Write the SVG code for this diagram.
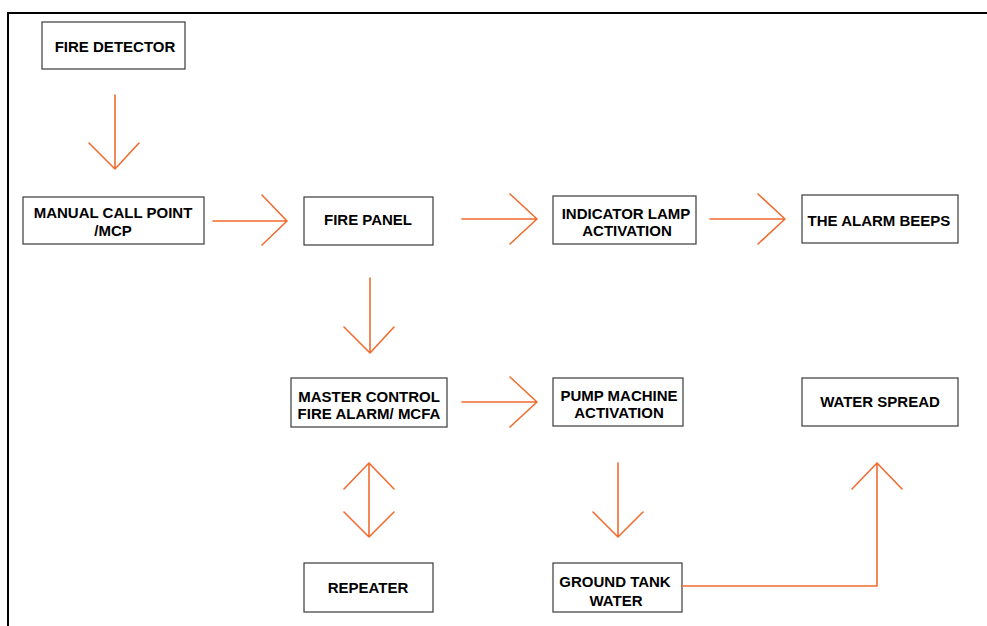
<svg xmlns="http://www.w3.org/2000/svg" width="987" height="626" viewBox="0 0 987 626">
<style>
.box{fill:#fff;stroke:#3a3a3a;stroke-width:1.2}
.t{font-family:"Liberation Sans",Arial,sans-serif;font-weight:bold;font-size:15px;fill:#000;text-anchor:middle}
.c{fill:none;stroke:#F26B2F;stroke-width:1.6;stroke-linecap:round;stroke-linejoin:round}
</style>
<rect x="0" y="0" width="987" height="626" fill="#fff"/>
<path d="M8,626 V13 H987" fill="none" stroke="#000" stroke-width="2"/>
<g id="fire-detector"><rect class="box" x="42" y="22" width="143" height="47"/><text class="t" x="115" y="52">FIRE DETECTOR</text></g>
<g id="manual-call-point"><rect class="box" x="23" y="197" width="181" height="47"/><text class="t" x="113" y="218">MANUAL CALL POINT</text><text class="t" x="113" y="236">/MCP</text></g>
<g id="fire-panel"><rect class="box" x="304" y="197" width="129" height="48"/><text class="t" x="368" y="225">FIRE PANEL</text></g>
<g id="indicator-lamp"><rect class="box" x="553" y="196" width="143" height="48"/><text class="t" x="626" y="219">INDICATOR LAMP</text><text class="t" x="627" y="236">ACTIVATION</text></g>
<g id="alarm-beeps"><rect class="box" x="802" y="195" width="156" height="48"/><text class="t" x="879" y="226">THE ALARM BEEPS</text></g>
<g id="mcfa"><rect class="box" x="291" y="378" width="156" height="49"/><text class="t" x="369" y="402">MASTER CONTROL</text><text class="t" x="369" y="419">FIRE ALARM/ MCFA</text></g>
<g id="pump-machine"><rect class="box" x="553" y="378" width="130" height="48"/><text class="t" x="619" y="401">PUMP MACHINE</text><text class="t" x="619" y="418">ACTIVATION</text></g>
<g id="water-spread"><rect class="box" x="802" y="378" width="156" height="48"/><text class="t" x="880" y="407">WATER SPREAD</text></g>
<g id="repeater"><rect class="box" x="304" y="563" width="129" height="49"/><text class="t" x="368" y="593">REPEATER</text></g>
<g id="ground-tank"><rect class="box" x="553" y="563" width="129" height="49"/><text class="t" x="615" y="587">GROUND TANK</text><text class="t" x="616" y="606">WATER</text></g>
<g id="connectors">
<path class="c" d="M115,95 V169 M89,143 L115,169 L139,143"/>
<path class="c" d="M213,221 H287 M262,195 L287,221 L262,245"/>
<path class="c" d="M462,219 H537 M510,194 L537,219 L510,244"/>
<path class="c" d="M710,219 H785 M758,194 L785,219 L758,244"/>
<path class="c" d="M370,278 V353 M344,327 L370,353 L394,327"/>
<path class="c" d="M462,402 H537 M510,377 L537,402 L510,427"/>
<path class="c" d="M369,463 V537 M344,489 L369,463 L394,489 M344,512 L369,537 L394,512"/>
<path class="c" d="M618,463 V537 M593,512 L618,537 L643,512"/>
<path class="c" d="M682,586 H877 V463 M852,489 L877,463 L902,489"/>
</g>
</svg>
